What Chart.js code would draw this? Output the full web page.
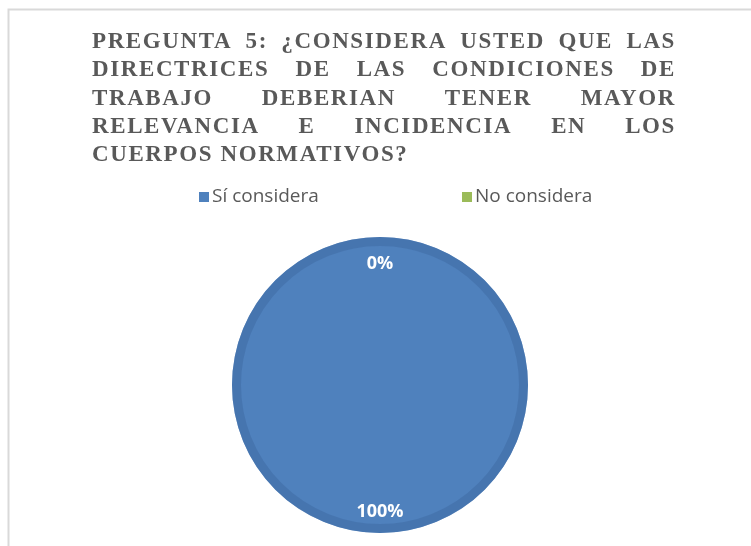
<!DOCTYPE html>
<html>
<head>
<meta charset="utf-8">
<script src="https://cdn.jsdelivr.net/npm/chart.js@4/dist/chart.umd.min.js"></script>
<style>
    html, body { margin: 0; padding: 0; background: #ffffff; overflow: hidden; }
    #wrap { width: 751px; height: 546px; }
</style>
</head>
<body>
<div id="wrap"><canvas id="pieChart" width="751" height="546"></canvas></div>
<script>
// datos del grafico
const categorias = ['Sí considera', 'No considera'];
const valores = [100, 0];
const colores = ['#4f81bd', '#9bbb59'];
const lineasTitulo = [
    'PREGUNTA 5: ¿CONSIDERA USTED QUE LAS',
    'DIRECTRICES DE LAS CONDICIONES DE',
    'TRABAJO DEBERIAN TENER MAYOR',
    'RELEVANCIA E INCIDENCIA EN LOS',
    'CUERPOS NORMATIVOS?'
];

// marco gris (solo se ve arriba y a la izquierda)
const marcoPlugin = {
    id: 'marco',
    beforeDraw: function (chart) {
        const ctx = chart.ctx;
        ctx.save();
        ctx.strokeStyle = '#d9d9d9';
        ctx.lineWidth = 2;
        ctx.beginPath();
        ctx.moveTo(8.5, chart.height);
        ctx.lineTo(8.5, 9.5);
        ctx.lineTo(chart.width, 9.5);
        ctx.stroke();
        ctx.restore();
    }
};

// titulo justificado
const tituloPlugin = {
    id: 'tituloJustificado',
    afterDraw: function (chart) {
        const ctx = chart.ctx;
        const left = 92, right = 676;
        const baselines = [48, 76, 104.5, 132.5, 161];
        ctx.save();
        ctx.font = 'bold 23px "Liberation Serif", "Times New Roman", serif';
        ctx.fillStyle = '#595959';
        ctx.textBaseline = 'alphabetic';
        ctx.textAlign = 'left';
        ctx.letterSpacing = '1.6px';
        lineasTitulo.forEach(function (linea, i) {
            const palabras = linea.split(' ');
            const anchos = palabras.map(p => ctx.measureText(p).width);
            const total = anchos.reduce((a, b) => a + b, 0);
            const ultima = i === lineasTitulo.length - 1;
            const gap = ultima ? ctx.measureText(' ').width : (right - left - total) / (palabras.length - 1);
            let x = left;
            palabras.forEach(function (p, j) {
                ctx.fillText(p, x, baselines[i]);
                x += anchos[j] + gap;
            });
        });
        ctx.restore();
    }
};

// leyenda propia (la de Chart.js no permite tanta separacion)
const leyendaPlugin = {
    id: 'leyenda',
    afterDraw: function (chart) {
        const ctx = chart.ctx;
        const posX = [199, 462];
        const y = 197;
        ctx.save();
        ctx.font = '19px "Open Sans", sans-serif';
        ctx.textBaseline = 'middle';
        ctx.textAlign = 'left';
        chart.data.labels.forEach(function (lbl, i) {
            ctx.fillStyle = chart.data.datasets[0].backgroundColor[i];
            ctx.fillRect(posX[i], y - 5, 10, 10);
            ctx.fillStyle = '#595959';
            ctx.fillText(lbl, posX[i] + 13, y);
        });
        ctx.restore();
    }
};

// borde mas oscuro y etiquetas de porcentaje
const etiquetasPlugin = {
    id: 'etiquetas',
    afterDatasetsDraw: function (chart) {
        const ctx = chart.ctx;
        const meta = chart.getDatasetMeta(0);
        const datos = chart.data.datasets[0].data;
        const suma = datos.reduce((a, b) => a + b, 0);
        const arco = meta.data[0];
        ctx.save();
        ctx.strokeStyle = 'rgba(64, 108, 164, 0.55)';
        ctx.lineWidth = 9;
        ctx.beginPath();
        ctx.arc(arco.x, arco.y, arco.outerRadius - 4.5, 0, Math.PI * 2);
        ctx.stroke();

        ctx.font = 'bold 18px "Open Sans", sans-serif';
        ctx.fillStyle = '#ffffff';
        ctx.textAlign = 'center';
        ctx.textBaseline = 'middle';
        meta.data.forEach(function (el, i) {
            const ang = (el.startAngle + el.endAngle) / 2;
            const r = el.outerRadius * 0.84;
            const pct = Math.round(datos[i] / suma * 100) + '%';
            ctx.fillText(pct, el.x + Math.cos(ang) * r, el.y + Math.sin(ang) * r + 3);
        });
        ctx.restore();
    }
};

const ctx = document.getElementById('pieChart').getContext('2d');
new Chart(ctx, {
    type: 'pie',
    data: {
        labels: categorias,
        datasets: [{
            data: valores,
            backgroundColor: colores,
            borderWidth: 0
        }]
    },
    options: {
        responsive: false,
        animation: false,
        layout: {
            padding: { top: 237, bottom: 13, left: 10, right: 1 }
        },
        plugins: {
            legend: { display: false },
            title: { display: false },
            tooltip: { enabled: false }
        }
    },
    plugins: [marcoPlugin, etiquetasPlugin, tituloPlugin, leyendaPlugin]
});
</script>
</body>
</html>
